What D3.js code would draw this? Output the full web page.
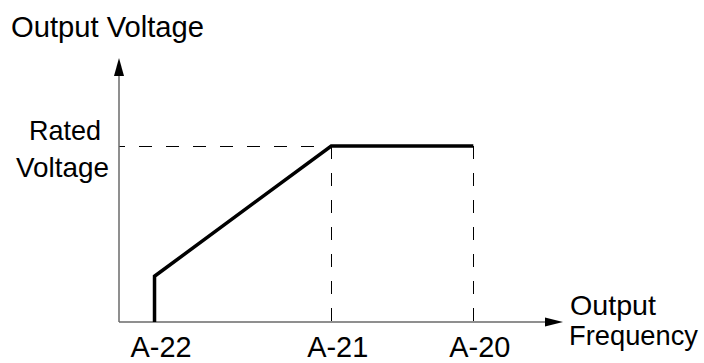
<!DOCTYPE html>
<html>
<head>
<meta charset="utf-8">
<script src="https://cdn.jsdelivr.net/npm/d3@7"></script>
<style>
html,body{margin:0;padding:0;background:#fff;}
svg text{font-family:"Liberation Sans",Arial,sans-serif;fill:#000;}
</style>
</head>
<body>
<svg id="chart" width="704" height="363"></svg>
<script>
// ---- data ----
const tickLabels = ["A-22", "A-21", "A-20"];
const tickFreq = [8, 47.8, 79.8];          // frequency positions of the labelled points
const curveFreq = [8, 8, 47.8, 79.8];      // V/f curve, frequency
const curveVolt = [0, 26, 100, 100];       // V/f curve, voltage (% of rated)
const ratedVoltage = 100;
const yTitle = "Output Voltage";
const xTitle = ["Output", "Frequency"];
const ratedLabel = ["Rated", "Voltage"];

const svg = d3.select("#chart");
const x = d3.scaleLinear().domain([0, 100]).range([119, 563]);
const y = d3.scaleLinear().domain([0, 150]).range([322, 58]);
const axisColor = "#6a6a6a";

// dashed guides
svg.append("line")
  .attr("x1", x(0)).attr("x2", x(tickFreq[1]))
  .attr("y1", y(ratedVoltage) + 0.5).attr("y2", y(ratedVoltage) + 0.5)
  .attr("stroke", "#000").attr("stroke-width", 1)
  .attr("stroke-dasharray", "13,14").attr("stroke-dashoffset", 7);
svg.selectAll("line.vguide").data(tickFreq.slice(1)).enter().append("line")
  .attr("class", "vguide")
  .attr("x1", d => Math.round(x(d)) + 0.5).attr("x2", d => Math.round(x(d)) + 0.5)
  .attr("y1", y(ratedVoltage)).attr("y2", y(0))
  .attr("stroke", "#000").attr("stroke-width", 1).attr("stroke-dasharray", "13,14");

// axes
svg.append("line").attr("x1", x(0)).attr("x2", x(0)).attr("y1", y(0)).attr("y2", y(140))
  .attr("stroke", axisColor).attr("stroke-width", 1.5);
svg.append("path")
  .attr("d", `M${x(0)},${y(150)} L${x(0)-5},${y(150)+18} L${x(0)+5},${y(150)+18} Z`)
  .attr("fill", "#000");
svg.append("line").attr("x1", x(0)).attr("x2", x(96)).attr("y1", y(0)).attr("y2", y(0))
  .attr("stroke", axisColor).attr("stroke-width", 1.5);
svg.append("path")
  .attr("d", `M${x(100)},${y(0)} L${x(100)-18},${y(0)-4.5} L${x(100)-18},${y(0)+4.5} Z`)
  .attr("fill", "#000");

// curve
const pts = curveFreq.map((f, i) => [f, curveVolt[i]]);
svg.append("path")
  .attr("d", d3.line().x(d => x(d[0])).y(d => y(d[1]))(pts))
  .attr("fill", "none").attr("stroke", "#000").attr("stroke-width", 3.5)
  .attr("stroke-linejoin", "miter");

// text helper: font size + target width
function label(sel, txt, px, py, size, width) {
  return sel.append("text").attr("x", px).attr("y", py)
    .attr("font-size", size)
    .attr("textLength", width).attr("lengthAdjust", "spacingAndGlyphs")
    .text(txt);
}

// tick labels
tickLabels.forEach((t, i) => {
  label(svg, t, x(tickFreq[i]) - 24, 357, 29, 61);
});

// titles
label(svg, yTitle, 11, 37, 30, 193);
label(svg, ratedLabel[0], 29, 140, 28, 72);
label(svg, ratedLabel[1], 16, 177, 28, 93);
label(svg, xTitle[0], 570, 315, 28, 86);
label(svg, xTitle[1], 569, 345, 28, 129);
</script>
</body>
</html>
